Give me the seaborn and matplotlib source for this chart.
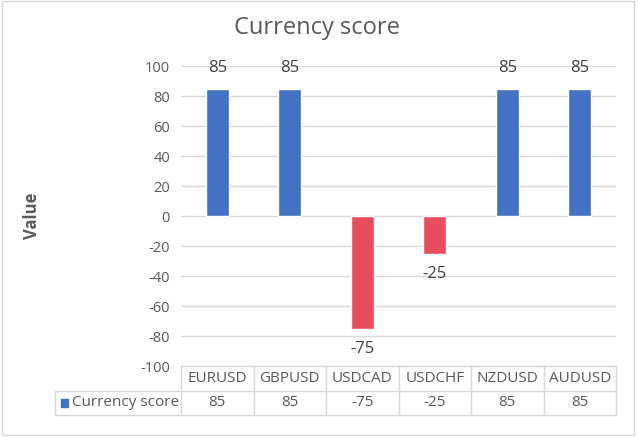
import matplotlib
matplotlib.use("Agg")
import matplotlib.pyplot as plt
import matplotlib.patches as mpatches
import seaborn as sns
import pandas as pd

categories = ["EURUSD", "GBPUSD", "USDCAD", "USDCHF", "NZDUSD", "AUDUSD"]
scores = [85, 85, -75, -25, 85, 85]
series_name = "Currency score"
y_ticks = [100, 80, 60, 40, 20, 0, -20, -40, -60, -80, -100]

BLUE = "#4472C4"
RED = "#E84C5F"
GRID = "#D9D9D9"
TXT = "#595959"

sns.set_theme(style="white")
plt.rcParams["font.family"] = ["Open Sans", "DejaVu Sans"]

df = pd.DataFrame({"cat": categories, "val": scores})
colors = [BLUE if v >= 0 else RED for v in scores]

fig = plt.figure(figsize=(6.38, 4.37), dpi=100)
W, H = 638, 437
ax = fig.add_axes([181 / W, (H - 366) / H, 435 / W, 300 / H])

sns.barplot(data=df, x="cat", y="val", hue="cat", palette=colors, legend=False,
            width=0.32, saturation=1, ax=ax, zorder=3)

ax.set_ylim(-100, 100)
ax.set_xlim(-0.5, len(categories) - 0.5)
ax.set_yticks(y_ticks)
ax.set_yticklabels([str(t) for t in y_ticks])
ax.tick_params(axis="y", length=0, pad=8, labelsize=10.5, labelcolor=TXT)
ax.set_xticks([])
ax.set_xlabel("")
ax.set_ylabel("")
for s in ax.spines.values():
    s.set_visible(False)
for t in y_ticks:
    ax.axhline(t, color=GRID, lw=1, zorder=1)

for c in ax.containers:
    ax.bar_label(c, labels=[str(int(v)) for v in c.datavalues], padding=9,
                 fontsize=12, color="#404040")

# data table
row_h = 24.5 / 300  # axes fraction
tr = ax.get_xaxis_transform()
n = len(categories)
lab_left = (55 - 181) / 435
kw = dict(color=GRID, lw=1, clip_on=False, zorder=2)
ax.plot([-0.5, n - 0.5], [0, 0], transform=tr, **kw)
ax.plot([lab_left, 1], [-row_h, -row_h], transform=ax.transAxes, **kw)
ax.plot([lab_left, 1], [-2 * row_h, -2 * row_h], transform=ax.transAxes, **kw)
for i in range(n + 1):
    ax.plot([i - 0.5, i - 0.5], [0, -2 * row_h], transform=tr, **kw)
ax.plot([lab_left, lab_left], [-row_h, -2 * row_h], transform=ax.transAxes, **kw)

for i, (c, v) in enumerate(zip(categories, scores)):
    ax.text(i, -0.5 * row_h, c, transform=tr, ha="center", va="center",
            fontsize=11, color=TXT)
    ax.text(i, -1.5 * row_h, str(v), transform=tr, ha="center", va="center",
            fontsize=11, color=TXT)

mx = (61 - 181) / 435
ax.add_patch(mpatches.Rectangle((mx, -1.5 * row_h - 3.8 / 300), 7.5 / 435, 7.5 / 300,
                                transform=ax.transAxes, color=BLUE, clip_on=False))
ax.text((71.5 - 181) / 435, -1.5 * row_h, series_name, transform=ax.transAxes,
        ha="left", va="center", fontsize=11, color=TXT)

fig.text(317 / W, 1 - 27.5 / H, "Currency score", ha="center", va="center",
         fontsize=17, color=TXT)
fig.text(32 / W, 1 - 216 / H, "Value", rotation=90, ha="center", va="center",
         fontsize=12, fontweight="bold", color=TXT)

fig.patches.append(mpatches.Rectangle((1.5 / W, 2 / H), 632.5 / W, 434 / H,
                                      transform=fig.transFigure, fill=False,
                                      edgecolor=GRID, lw=1))

fig.savefig("out.png", dpi=100)
